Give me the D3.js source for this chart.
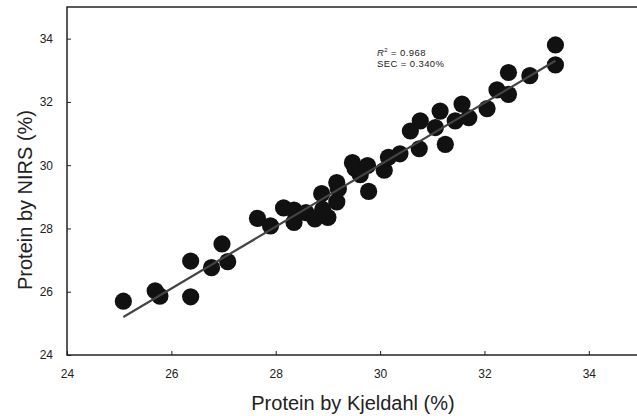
<!DOCTYPE html>
<html>
<head>
<meta charset="utf-8">
<script src="https://cdn.jsdelivr.net/npm/d3@7"></script>
<style>
  body { margin: 0; background: #fff; }
  svg { display: block; font-family: "Liberation Sans", Arial, sans-serif; }
</style>
</head>
<body>
<svg id="chart" width="637" height="416"></svg>
<script>
// Kjeldahl reference values (x) vs NIRS predictions (y)
var kjeldahl = [25.08, 25.69, 25.78, 26.37, 26.37, 26.77, 26.97, 27.08, 27.65, 27.90,
                28.15, 28.35, 28.35, 28.58, 28.75, 28.90, 28.88, 29.00, 29.17, 29.20,
                29.17, 29.47, 29.52, 29.62, 29.76, 29.78, 30.08, 30.16, 30.38, 30.58,
                30.77, 30.75, 31.06, 31.15, 31.25, 31.44, 31.57, 31.70, 32.05, 32.24,
                32.46, 32.46, 32.87, 33.36, 33.36];
var nirs     = [25.70, 26.03, 25.86, 26.97, 25.84, 26.76, 27.51, 26.95, 28.32, 28.08,
                28.65, 28.58, 28.19, 28.50, 28.30, 28.60, 29.10, 28.35, 28.84, 29.25,
                29.45, 30.08, 29.90, 29.70, 29.99, 29.17, 29.84, 30.25, 30.36, 31.08,
                31.40, 30.52, 31.19, 31.71, 30.66, 31.40, 31.93, 31.50, 31.79, 32.38,
                32.24, 32.93, 32.83, 33.80, 33.17];

// fitted calibration line end points
var fitX = [25.08, 33.36];
var fitY = [25.20, 33.30];

var xTicks = [24, 26, 28, 30, 32, 34];
var yTicks = [24, 26, 28, 30, 32, 34];

var stats = ["= 0.968", "SEC = 0.340%"];

var svg = d3.select("#chart");
var margin = {left: 67, top: 7, right: -4, bottom: 61};
var w = 637 - margin.left - margin.right;
var h = 416 - margin.top - margin.bottom;

var x = d3.scaleLinear().domain([24, 35]).range([0, w]);
var y = d3.scaleLinear().domain([24, 35]).range([h, 0]);

var g = svg.append("g").attr("transform", "translate(" + margin.left + "," + margin.top + ")");

var xAxis = g.append("g")
    .attr("transform", "translate(0," + h + ")")
    .call(d3.axisBottom(x).tickValues(xTicks).tickSizeInner(-4).tickSizeOuter(0).tickPadding(14));
var yAxis = g.append("g")
    .call(d3.axisLeft(y).tickValues(yTicks).tickSizeInner(-4).tickSizeOuter(0).tickPadding(14));

[xAxis, yAxis].forEach(function (a) {
    a.select(".domain").remove();
    a.selectAll("line").attr("stroke", "#222").attr("stroke-width", 1);
    a.selectAll("text").attr("fill", "#222").style("font-size", "12px");
});

g.append("rect")
    .attr("width", w).attr("height", h)
    .attr("fill", "none").attr("stroke", "#222").attr("stroke-width", 1.5);

g.selectAll("circle.pt")
    .data(d3.range(kjeldahl.length))
    .enter().append("circle")
    .attr("class", "pt")
    .attr("cx", function (i) { return x(kjeldahl[i]); })
    .attr("cy", function (i) { return y(nirs[i]); })
    .attr("r", 8.6)
    .attr("fill", "#111");

g.append("line")
    .attr("x1", x(fitX[0])).attr("y1", y(fitY[0]))
    .attr("x2", x(fitX[1])).attr("y2", y(fitY[1]))
    .attr("stroke", "#444").attr("stroke-width", 2.2);

// annotation
var ann = g.append("text").attr("x", 310).attr("y", 49)
    .style("font-size", "9.5px").style("letter-spacing", "0.4px").attr("fill", "#222");
ann.append("tspan").style("font-style", "italic").text("R");
ann.append("tspan").attr("dy", -4).style("font-size", "6px").text("2");
ann.append("tspan").attr("dy", 4).text("  " + stats[0].replace("=", "= "));
g.append("text").attr("x", 310).attr("y", 60)
    .style("font-size", "9.5px").style("letter-spacing", "0.4px").attr("fill", "#222")
    .text(stats[1].replace("= ", "=  "));

// axis titles
svg.append("text")
    .attr("x", 353).attr("y", 410)
    .attr("text-anchor", "middle")
    .style("font-size", "20px").attr("fill", "#222")
    .text("Protein by Kjeldahl (%)");
svg.append("text")
    .attr("transform", "translate(32,200) rotate(-90)")
    .attr("text-anchor", "middle")
    .style("font-size", "20px").attr("fill", "#222")
    .text("Protein by NIRS (%)");
</script>
</body>
</html>
